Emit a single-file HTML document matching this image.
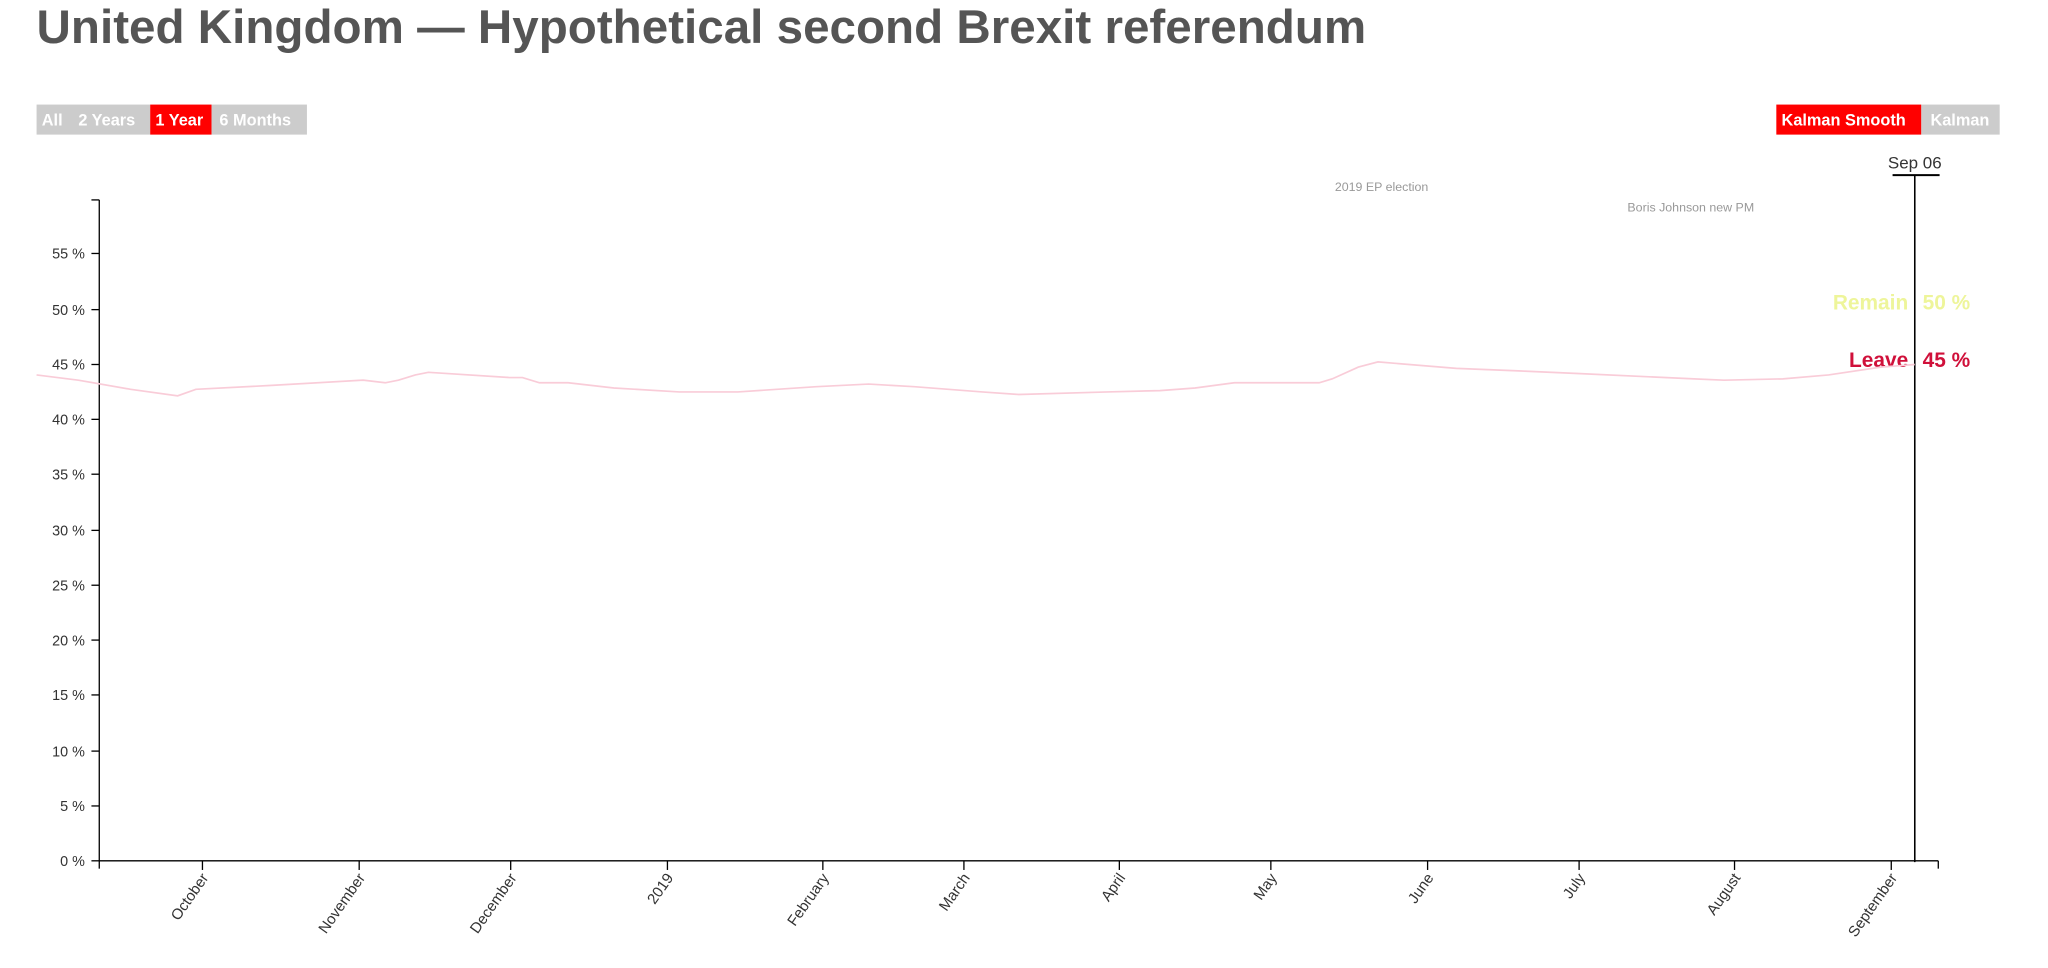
<!DOCTYPE html>
<html><head><meta charset="utf-8"><style>html,body{margin:0;padding:0;background:#fff;}svg{display:block}</style></head>
<body>
<svg width="2048" height="968" viewBox="0 0 1568 741" xmlns="http://www.w3.org/2000/svg" font-family="Liberation Sans, sans-serif">
<text x="28" y="33" font-size="36" font-weight="bold" fill="#555" textLength="1018" lengthAdjust="spacingAndGlyphs">United Kingdom — Hypothetical second Brexit referendum</text>
<rect x="28" y="80" width="87" height="23" fill="#ccc"/>
<rect x="115" y="80" width="47" height="23" fill="#f00"/>
<rect x="162" y="80" width="73" height="23" fill="#ccc"/>
<g font-size="12.5" font-weight="bold" fill="#fff">
<text x="32" y="96">All</text><text x="60" y="96">2 Years</text><text x="119" y="96">1 Year</text><text x="168" y="96">6 Months</text>
</g>
<rect x="1360" y="80" width="111" height="23" fill="#f00"/>
<rect x="1471" y="80" width="60" height="23" fill="#ccc"/>
<g font-size="12.5" font-weight="bold" fill="#fff">
<text x="1364" y="96">Kalman Smooth</text><text x="1478" y="96">Kalman</text>
</g>
<text x="1466" y="129" font-size="13" fill="#333" text-anchor="middle">Sep 06</text>
<line x1="1449" y1="134" x2="1485" y2="134" stroke="#000" stroke-width="1.5"/>
<line x1="1466" y1="134" x2="1466" y2="660" stroke="#000" stroke-width="1.2"/>
<text x="1022" y="146" font-size="9.5" fill="#999">2019 EP election</text>
<text x="1246" y="162" font-size="9.5" fill="#999">Boris Johnson new PM</text>
<text x="1461" y="237" font-size="16" font-weight="bold" fill="#eef59a" text-anchor="end">Remain</text>
<text x="1472" y="237" font-size="16" font-weight="bold" fill="#eef59a">50 %</text>
<text x="1461" y="281" font-size="16" font-weight="bold" fill="#d0103a" text-anchor="end">Leave</text>
<text x="1472" y="281" font-size="16" font-weight="bold" fill="#d0103a">45 %</text>
<g stroke="#000" stroke-width="1">
<line x1="76" y1="153" x2="76" y2="659"/>
<line x1="70" y1="153" x2="76" y2="153"/>
<line x1="76" y1="659" x2="1484" y2="659"/>
<line x1="1484" y1="659" x2="1484" y2="665"/>
<line x1="76" y1="659" x2="76" y2="665"/>
</g>
<g font-size="11" fill="#333" text-anchor="end" stroke="#000">
<g stroke="none">
<text x="65" y="663">0 %</text><text x="65" y="621">5 %</text><text x="65" y="579">10 %</text><text x="65" y="536">15 %</text><text x="65" y="494">20 %</text><text x="65" y="452">25 %</text><text x="65" y="410">30 %</text><text x="65" y="367">35 %</text><text x="65" y="325">40 %</text><text x="65" y="283">45 %</text><text x="65" y="241">50 %</text><text x="65" y="198">55 %</text>
</g>
<line x1="70" y1="659" x2="76" y2="659"/><line x1="70" y1="617" x2="76" y2="617"/><line x1="70" y1="575" x2="76" y2="575"/><line x1="70" y1="532" x2="76" y2="532"/><line x1="70" y1="490" x2="76" y2="490"/><line x1="70" y1="448" x2="76" y2="448"/><line x1="70" y1="406" x2="76" y2="406"/><line x1="70" y1="363" x2="76" y2="363"/><line x1="70" y1="321" x2="76" y2="321"/><line x1="70" y1="279" x2="76" y2="279"/><line x1="70" y1="237" x2="76" y2="237"/><line x1="70" y1="194" x2="76" y2="194"/>
</g>
<g stroke="#000">
<line x1="155" y1="659" x2="155" y2="666"/><line x1="275" y1="659" x2="275" y2="666"/><line x1="391" y1="659" x2="391" y2="666"/><line x1="511" y1="659" x2="511" y2="666"/><line x1="630" y1="659" x2="630" y2="666"/><line x1="738" y1="659" x2="738" y2="666"/><line x1="857" y1="659" x2="857" y2="666"/><line x1="973" y1="659" x2="973" y2="666"/><line x1="1093" y1="659" x2="1093" y2="666"/><line x1="1209" y1="659" x2="1209" y2="666"/><line x1="1328" y1="659" x2="1328" y2="666"/><line x1="1448" y1="659" x2="1448" y2="666"/>
</g>
<g font-size="11.5" fill="#333" text-anchor="end">
<text transform="translate(160,672) rotate(-55)">October</text>
<text transform="translate(280,672) rotate(-55)">November</text>
<text transform="translate(396,672) rotate(-55)">December</text>
<text transform="translate(516,672) rotate(-55)">2019</text>
<text transform="translate(635,672) rotate(-55)">February</text>
<text transform="translate(743,672) rotate(-55)">March</text>
<text transform="translate(862,672) rotate(-55)">April</text>
<text transform="translate(978,672) rotate(-55)">May</text>
<text transform="translate(1098,672) rotate(-55)">June</text>
<text transform="translate(1214,672) rotate(-55)">July</text>
<text transform="translate(1333,672) rotate(-55)">August</text>
<text transform="translate(1453,672) rotate(-55)">September</text>
</g>
<polyline fill="none" stroke="#f9ccd8" stroke-width="1.3" points="28,287 60,291 100,298 136,303 150,298 208,295 278,291 295,293 305,291 318,287 328,285 390,289 400,289 413,293 435,293 470,297 520,300 565,300 625,296 665,294 700,296 752,300 780,302 848,300 888,299 915,297 945,293 1010,293 1020,290 1040,281 1055,277 1115,282 1165,284 1210,286 1297,290 1320,291 1365,290 1400,287 1440,281 1466,279"/>
</svg>
</body></html>
